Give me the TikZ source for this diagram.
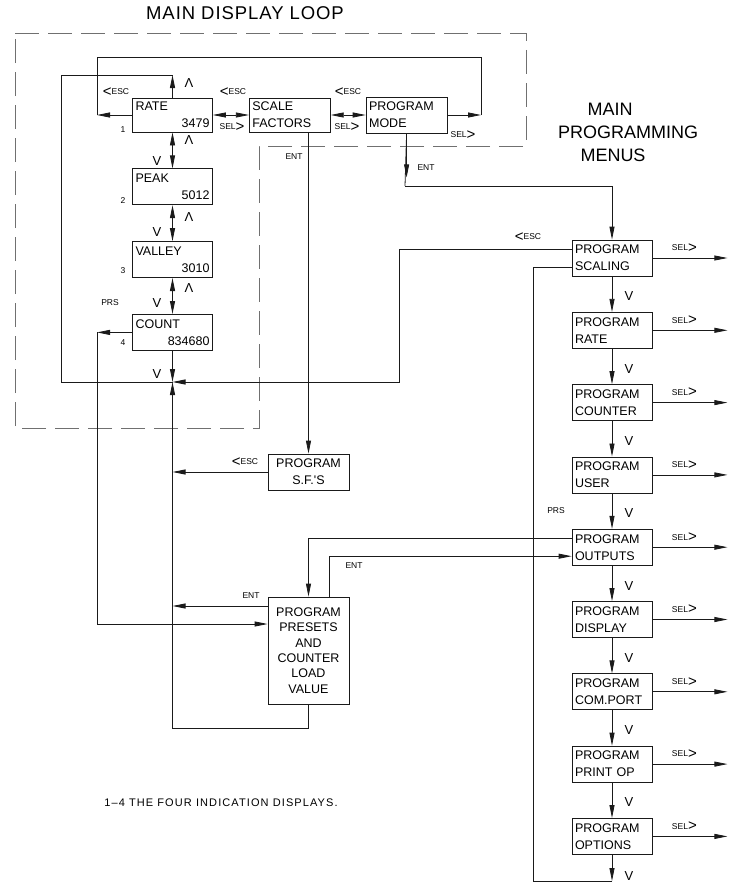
\documentclass[tikz,border=0pt]{standalone}
\usepackage{fontspec}
\setmainfont{Liberation Sans}
\usepackage{tikz}
\usetikzlibrary{arrows.meta, positioning}
\definecolor{mdLine}{HTML}{1A1A1A}
\definecolor{mdDash}{HTML}{707070}
\newcommand{\escKey}{\raisebox{-1.5pt}{\fontsize{15}{15}\selectfont<}ESC}
\newcommand{\selKey}{SEL\raisebox{-1.5pt}{\fontsize{15}{15}\selectfont>}}
\tikzset{
  md-box/.style={
    rectangle, draw=mdLine, line width=0.8pt, minimum width=80pt,
    minimum height=36pt, text width=74pt, inner xsep=3pt, inner ysep=2pt,
    align=left, font=\fontsize{12.5}{17}\selectfont
  },
  md-tall/.style={
    md-box, minimum height=107pt, align=center,
    font=\fontsize{12.5}{15.3}\selectfont
  },
  md-flow/.style={-{Triangle[length=13pt,width=5pt]}, line width=0.8pt, draw=mdLine},
  md-dflow/.style={{Triangle[length=13pt,width=5pt]}-{Triangle[length=13pt,width=5pt]},
    line width=0.8pt, draw=mdLine},
  md-line/.style={line width=0.8pt, draw=mdLine},
  md-key/.style={font=\fontsize{8.5}{9}\selectfont, inner sep=0pt},
  md-caret/.style={font=\fontsize{13}{13}\selectfont, inner sep=0pt},
  md-title/.style={font=\fontsize{18}{18}\selectfont, inner sep=0pt},
  md-dash/.style={draw=mdDash, line width=0.9pt, dash pattern=on 24pt off 9pt},
}
\begin{document}
\begin{tikzpicture}[x=1pt, y=-1pt, node distance=35.5pt and 40pt]
  \useasboundingbox (0,0) rectangle (732,883);

  % main display loop
  \draw[md-dash] (15,33) -| (526,146) -| (259,428) -- (15,428) -- cycle;
  \node[md-title, font=\fontsize{18.5}{18}\selectfont\addfontfeature{LetterSpace=5}] (loopT) at (245,13) {MAIN DISPLAY LOOP};

  \node[md-box, minimum height=34pt] (rate) at (172.5,115) {RATE\\\hspace*{0pt plus 1filll}3479};
  \node[md-box, below=36pt of rate]   (peak)   {PEAK\\\hspace*{0pt plus 1filll}5012};
  \node[md-box, below=36pt of peak]   (valley) {VALLEY\\\hspace*{0pt plus 1filll}3010};
  \node[md-box, below=36pt of valley] (count)  {COUNT\\\hspace*{0pt plus 1filll}834680};
  \node[md-box, minimum height=34pt, minimum width=81pt, text width=75pt, right=36pt of rate] (scale) {SCALE\\FACTORS};
  \node[md-box, minimum width=81pt, text width=75pt, right=35pt of scale] (mode) {PROGRAM\\MODE};

  \node[md-box, minimum width=81pt, text width=75pt, align=center] (psf) at (308.5,472) {PROGRAM\\S.F.\textquotesingle S};
  \node[md-tall, minimum width=81pt, text width=75pt] (ppre) at (308.5,650.5) {PROGRAM\\PRESETS\\AND\\COUNTER\\LOAD\\VALUE};

  % main programming menus
  \node[md-title] (menuA) at (610,109) {MAIN};
  \node[md-title] (menuB) at (628,132) {PROGRAMMING};
  \node[md-title] (menuC) at (613,155) {MENUS};

  \node[md-box] (pscal) at (612,258)   {PROGRAM\\SCALING};
  \node[md-box, below=of pscal]  (prate)  {PROGRAM\\RATE};
  \node[md-box, below=of prate]  (pcount) {PROGRAM\\COUNTER};
  \node[md-box, below=of pcount] (puser)  {PROGRAM\\USER};
  \node[md-box, below=of puser]  (pout)   {PROGRAM\\OUTPUTS};
  \node[md-box, below=of pout]   (pdisp)  {PROGRAM\\DISPLAY};
  \node[md-box, below=of pdisp]  (pcom)   {PROGRAM\\COM.PORT};
  \node[md-box, below=of pcom]   (pprint) {PROGRAM\\PRINT OP};
  \node[md-box, below=of pprint] (popt)   {PROGRAM\\OPTIONS};

  \coordinate (jn)   at (172.5,382);
  \coordinate (topL) at (172.5,75);
  \coordinate (escL) at (97,115);
  \coordinate (selR) at (481,115);
  \coordinate (entM) at (405,186);
  \coordinate (botR) at (612,881);
  \coordinate (botL) at (172.5,728);
  \coordinate (entP) at ([yshift=44.5pt]ppre.west);

  % display loop connectors
  \draw[md-dflow] (rate) -- (peak);
  \draw[md-dflow] (peak) -- (valley);
  \draw[md-dflow] (valley) -- (count);
  \draw[md-dflow] (rate) -- (scale);
  \draw[md-dflow] (scale) -- (mode);
  \draw[md-flow] (rate.north) -- (topL);
  \draw[md-line] (topL) -| (61,382) -- (jn);
  \draw[md-flow] (count.south) -- (jn);
  \draw[md-flow] (rate.west) -- (escL);
  \draw[md-flow] (mode.east) -- (selR);
  \draw[md-line] (selR) |- (97,57) -- (escL);
  \draw[md-flow] (count.west) -- (count.west -| escL);
  \draw[md-flow] (count.west -| escL) |- ([yshift=26.5pt]ppre.west);
  \draw[md-flow] (entP) -- (entP -| jn);
  \draw[md-flow] (psf.north |- scale.south) -- (psf.north);
  \draw[md-flow] (psf.west) -- (psf.west -| jn);
  \draw[md-flow] (ppre.south) |- (botL) -- (jn);

  % programming menu connectors
  \draw[md-line] (mode.south) -- (entM);
  \draw[md-flow] (mode.south) -- ++(0,44);
  \draw[md-flow] (entM) -| (pscal.north);
  \draw[md-flow] ([yshift=9pt]pscal.west) -| (399,382) -- (jn);
  \draw[md-flow] (popt.south) -- (botR);
  \draw[md-line] (botR) -| (533,267) -- ([yshift=-9pt]pscal.west);
  \draw[md-flow] ([yshift=9pt]pout.west) -| (ppre.north);
  \draw[md-flow] ([xshift=20.5pt]ppre.north) |- ([yshift=-9pt]pout.west);

  \foreach \a/\b in {pscal/prate, prate/pcount, pcount/puser, puser/pout,
                     pout/pdisp, pdisp/pcom, pcom/pprint, pprint/popt} {
    \draw[md-flow] (\a) -- (\b);
    \node[md-caret] (dn-\a) at ([shift={(17pt,-20pt)}]\a.south) {V};
  }
  \node[md-caret] (dn-popt) at ([shift={(17pt,-21pt)}]popt.south) {V};
  \foreach \n in {pscal, prate, pcount, puser, pout, pdisp, pcom, pprint, popt} {
    \draw[md-flow] (\n.east) -- ++(75,0);
    \node[md-key] (sel-\n) at ([shift={(32pt,10pt)}]\n.east) {\selKey};
  }

  % key labels
  \node[md-key] (escA) at (116,92)  {\escKey};
  \node[md-key] (escB) at (233,92)  {\escKey};
  \node[md-key] (escC) at (348,92)  {\escKey};
  \node[md-key] (selA) at (232,127) {\selKey};
  \node[md-key] (selB) at (347,127) {\selKey};
  \node[md-key] (selC) at (463,135) {\selKey};
  \node[md-key] (escD) at (245,462) {\escKey};
  \node[md-key] (escE) at (528,237) {\escKey};
  \node[md-key] (entA) at (294,157) {ENT};
  \node[md-key] (entB) at (426,168) {ENT};
  \node[md-key] (entC) at (251,596) {ENT};
  \node[md-key] (entD) at (354,566) {ENT};
  \node[md-key] (prsA) at (110,303) {PRS};
  \node[md-key] (prsB) at (556,511) {PRS};
  \node[md-key] (num1) at (123,129.5) {1};
  \node[md-key] (num2) at (123,201) {2};
  \node[md-key] (num3) at (123,271) {3};
  \node[md-key] (num4) at (123,343) {4};

  \node[md-caret] (upA) at (189,83)  {Λ};
  \node[md-caret] (upB) at (189,140) {Λ};
  \node[md-caret] (upC) at (189,217) {Λ};
  \node[md-caret] (upD) at (189,288) {Λ};
  \node[md-caret] (dnA) at (157,161) {V};
  \node[md-caret] (dnB) at (157,232) {V};
  \node[md-caret] (dnC) at (157,303) {V};
  \node[md-caret] (dnD) at (157,374) {V};

  \node[font=\fontsize{11}{12}\selectfont\addfontfeature{LetterSpace=10}, inner sep=0pt] (note) at (221,803) {1--4 THE FOUR INDICATION DISPLAYS.};
\end{tikzpicture}
\end{document}
